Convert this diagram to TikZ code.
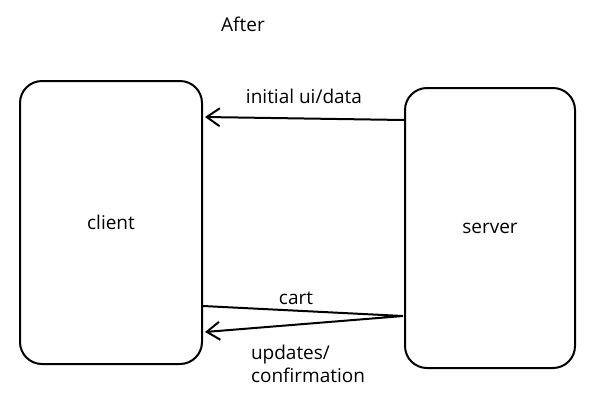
\documentclass[tikz,border=0pt]{standalone}
\usepackage{fontspec}
\setmainfont{Open Sans}
\usetikzlibrary{arrows.meta}

\begin{document}
\begin{tikzpicture}[x=1pt,y=-1pt,font=\fontsize{19}{23}\selectfont,line width=2pt,
  box/.style={draw,rounded corners=22pt,minimum width=#1},
  barb/.style={-{Straight Barb[length=13pt,width=18pt,line width=2pt]}}]
\useasboundingbox (0, 0) rectangle (613, 416);
\node (title) at (243, 24) {After};
\node (client) [box=182pt,minimum height=283pt] at (111, 222.5) {client};
\node (server) [box=170pt,minimum height=280pt] at (490, 228) {server};
\coordinate (s1) at (404, 120);
\coordinate (c1) at (205, 117);
\coordinate (c2) at (203, 306);
\coordinate (s2) at (403, 316);
\coordinate (c3) at (205, 332);
\node (data) at (304, 96) {initial ui/data};
\node (cart) at (296, 298) {cart};
\node (upd) [anchor=north west,align=left,inner sep=0pt] at (250, 344) {updates/\\confirmation};
\draw [barb] (s1) -- (c1);
\draw [barb] (c2) -- (s2) -- (c3);
\end{tikzpicture}
\end{document}
